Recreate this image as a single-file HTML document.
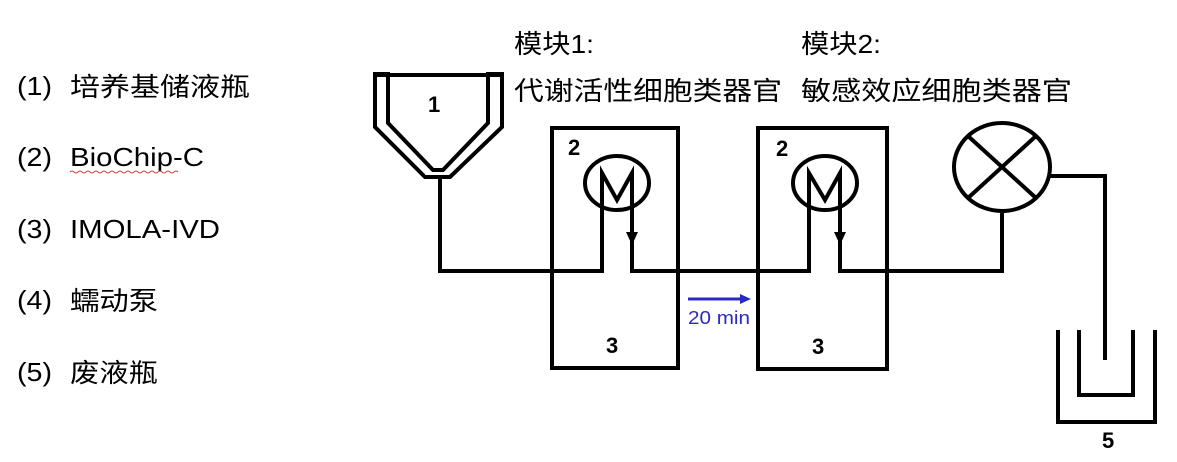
<!DOCTYPE html>
<html><head><meta charset="utf-8"><style>
html,body{margin:0;padding:0;background:#fff;}
svg{display:block;}
text{font-family:"Liberation Sans","Noto Sans CJK SC",sans-serif;}
</style></head><body>
<svg width="1177" height="462" viewBox="0 0 1177 462" xmlns="http://www.w3.org/2000/svg">
<g font-size="26" fill="#000">
<text x="17" y="95" textLength="35" lengthAdjust="spacingAndGlyphs">(1)</text>
<text x="70" y="96" textLength="180" lengthAdjust="spacingAndGlyphs">培养基储液瓶</text>
<text x="17" y="166" textLength="35" lengthAdjust="spacingAndGlyphs">(2)</text>
<text x="70" y="166" textLength="134" lengthAdjust="spacingAndGlyphs">BioChip-C</text>
<text x="17" y="238" textLength="35" lengthAdjust="spacingAndGlyphs">(3)</text>
<text x="70" y="238" textLength="150" lengthAdjust="spacingAndGlyphs">IMOLA-IVD</text>
<text x="17" y="309" textLength="35" lengthAdjust="spacingAndGlyphs">(4)</text>
<text x="70" y="310" textLength="88" lengthAdjust="spacingAndGlyphs">蠕动泵</text>
<text x="17" y="381" textLength="35" lengthAdjust="spacingAndGlyphs">(5)</text>
<text x="70" y="382" textLength="88" lengthAdjust="spacingAndGlyphs">废液瓶</text>
<text x="514" y="53" textLength="80" lengthAdjust="spacingAndGlyphs">模块1:</text>
<text x="514" y="100" textLength="268" lengthAdjust="spacingAndGlyphs">代谢活性细胞类器官</text>
<text x="801" y="53" textLength="80" lengthAdjust="spacingAndGlyphs">模块2:</text>
<text x="801" y="100" textLength="271" lengthAdjust="spacingAndGlyphs">敏感效应细胞类器官</text>
</g>
<path d="M70,172 q2,-2 4,0 t4,0 t4,0 t4,0 t4,0 t4,0 t4,0 t4,0 t4,0 t4,0 t4,0 t4,0 t4,0 t4,0 t4,0 t4,0 t4,0 t4,0 t4,0 t4,0 t4,0 t4,0 t4,0 t4,0 t4,0 t4,0 t4,0" fill="none" stroke="#d04040" stroke-width="1"/>
<g fill="none" stroke="#000" stroke-width="4">
<path d="M388,74 L375,74 L375,127 L425,177 L450,177 L502,127 L502,74 L488,74 L488,123 L443,170 L433,170 L388,123 Z"/>
<path d="M375,75 L502,75"/>
<path d="M440,177 L440,271 L602,271 L602,173 L617,200 L632,173 L632,271 L809,271 L809,173 L825,200 L840,173 L840,271 L1002,271 L1002,212"/>
<rect x="552" y="128" width="126" height="240"/>
<rect x="758" y="128" width="129" height="241"/>
<ellipse cx="617" cy="183" rx="32" ry="27"/>
<ellipse cx="825" cy="183" rx="32" ry="27"/>
<ellipse cx="1002" cy="167" rx="48" ry="44"/>
<path d="M968,136 L1036,198 M1036,136 L968,198"/>
<path d="M1050,176 L1105,176 L1105,360"/>
<path d="M1058,330 L1058,422 L1155,422 L1155,330"/>
<path d="M1079,330 L1079,395 L1133,395 L1133,330"/>
</g>
<path d="M626,232 L638,232 L632,245 Z M834,232 L846,232 L840,245 Z" fill="#000"/>
<g font-size="22" font-weight="bold" fill="#000">
<text x="428" y="112">1</text>
<text x="568" y="155">2</text>
<text x="606" y="353">3</text>
<text x="776" y="156">2</text>
<text x="812" y="354">3</text>
<text x="1102" y="448">5</text>
</g>
<path d="M688,299 L742,299" stroke="#2a2ac0" stroke-width="3"/>
<path d="M740,294 L751,299 L740,304 Z" fill="#2a2ac0"/>
<text x="688" y="324" font-size="18" fill="#2a2ac0" textLength="62" lengthAdjust="spacingAndGlyphs">20 min</text>
</svg>
</body></html>
